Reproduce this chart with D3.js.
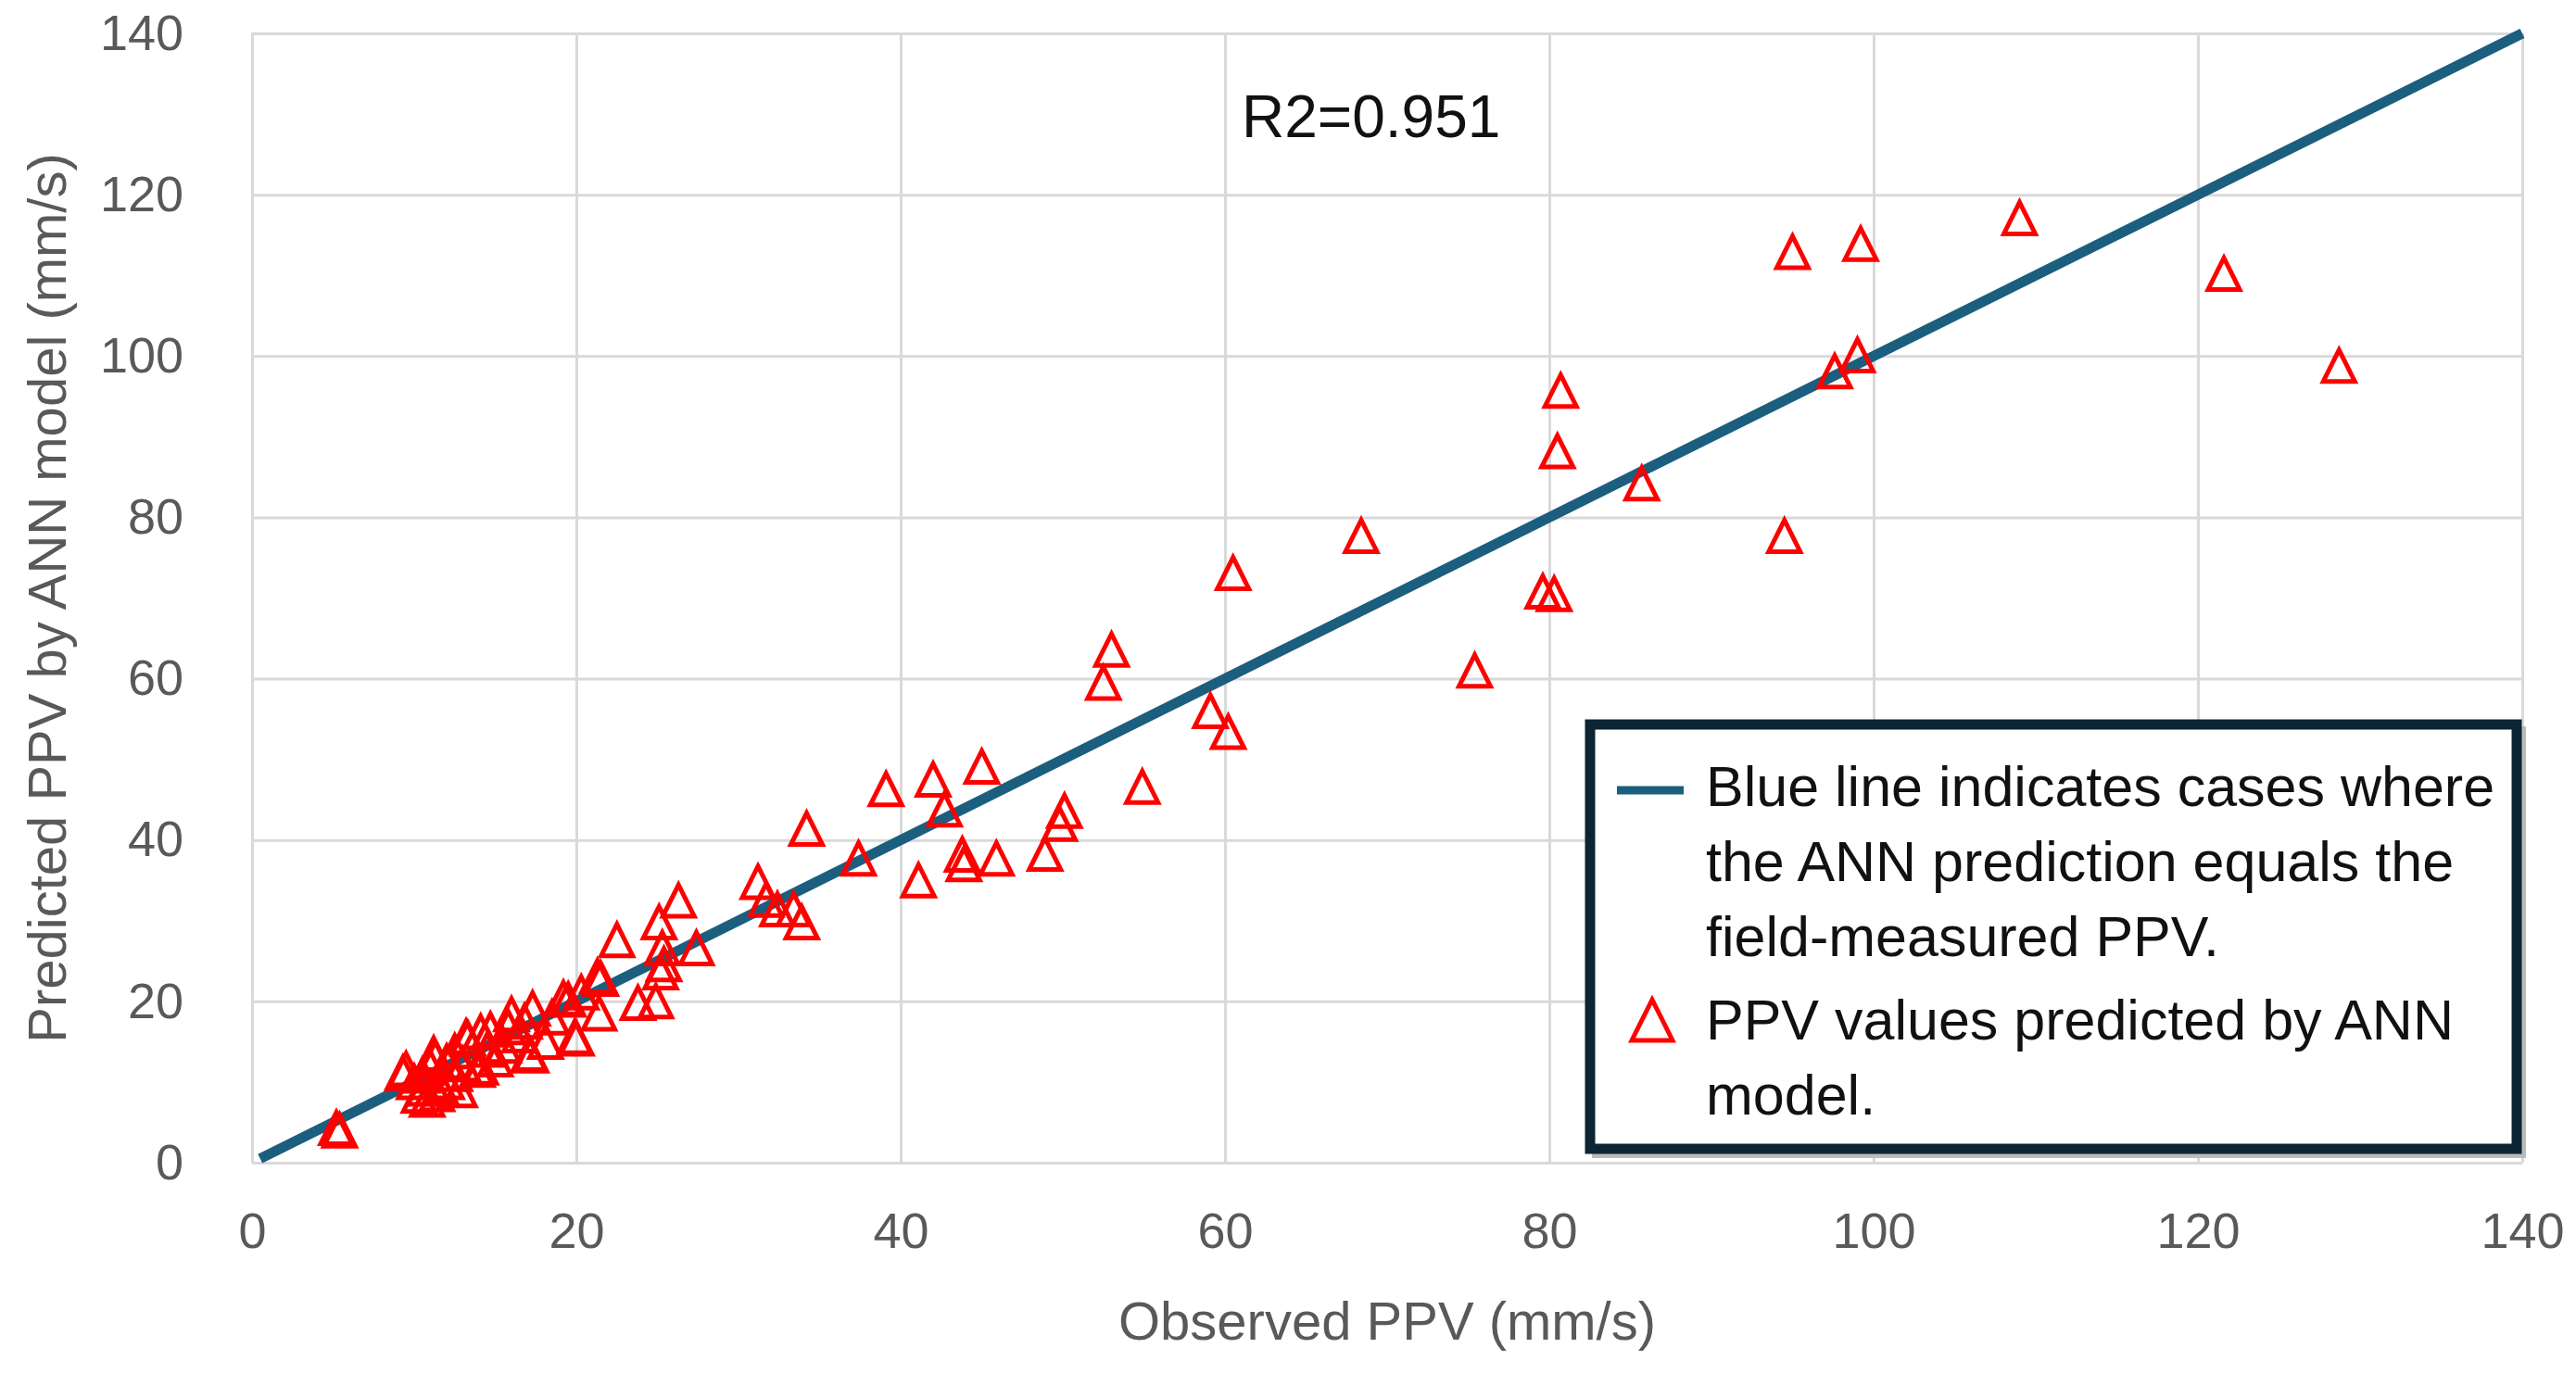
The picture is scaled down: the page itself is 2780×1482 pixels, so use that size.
<!DOCTYPE html>
<html>
<head>
<meta charset="utf-8">
<script src="https://cdn.jsdelivr.net/npm/d3@7"></script>
<style>
  body { margin: 0; background: #fff; }
  svg { display: block; font-family: "Liberation Sans", Arial, sans-serif; }
</style>
</head>
<body>
<div id="fig-scatter"><svg width="2780" height="1482"></svg></div>
<script>

// observed PPV (mm/s)
const observedPPV = [
	109.0, 95.0, 99.2, 121.6, 128.7, 99.0, 97.6, 80.7, 80.5, 85.7,
	68.4, 94.5, 60.5, 79.6, 80.3, 75.4, 53.0, 52.5, 59.1, 60.2,
	54.9, 45.0, 42.0, 39.1, 42.7, 50.1, 49.8, 48.9, 34.2, 37.4,
	43.8, 43.9, 45.9, 41.1, 31.2, 31.7, 33.4, 33.9, 26.3, 25.1,
	27.4, 25.3, 25.4, 25.2, 22.5, 23.8, 21.5, 21.4, 20.0, 19.5,
	20.3, 21.3, 19.2, 18.1, 19.9, 17.1, 17.3, 16.0, 14.7, 14.1,
	13.2, 13.9, 14.1, 13.3, 11.2, 11.3, 10.3, 11.4, 11.6, 9.3,
	9.5, 10.0, 10.6, 12.0, 12.5, 15.0, 15.5, 16.5, 17.2, 12.0,
	10.8, 5.2, 5.4, 24.9, 32.4, 12.5, 13.0, 15.8, 11.0, 14.5,
	16.8, 18.5, 10.5, 12.8
];

// PPV predicted by the ANN model (mm/s)
const predictedPPV = [
	117.1, 112.9, 113.9, 110.2, 98.8, 100.1, 98.1, 95.7, 88.2, 84.2,
	77.7, 77.7, 73.1, 70.8, 70.5, 61.0, 63.6, 59.5, 56.0, 53.4,
	46.6, 49.1, 47.5, 46.3, 43.8, 43.6, 42.0, 38.3, 41.4, 37.7,
	38.2, 37.0, 37.7, 35.0, 34.8, 32.6, 31.4, 29.8, 32.5, 29.8,
	26.6, 26.6, 24.6, 23.6, 27.6, 19.8, 22.8, 18.5, 15.4, 20.2,
	21.1, 23.1, 20.4, 15.0, 15.6, 13.5, 19.1, 18.4, 16.5, 16.2,
	15.6, 11.5, 11.8, 15.4, 13.5, 13.0, 8.3, 8.5, 9.5, 11.1,
	11.6, 10.0, 9.2, 12.5, 11.0, 12.8, 14.5, 15.8, 13.3, 10.0,
	7.8, 4.3, 4.0, 20.0, 31.4, 13.8, 12.2, 16.8, 11.8, 14.0,
	17.5, 18.0, 10.8, 9.0
];

// perfect-agreement line (prediction = observation)
const equalityLine = [[0.5, 0.5], [140, 140]];

const axisTicks = [0, 20, 40, 60, 80, 100, 120, 140];
const xTitle = "Observed PPV (mm/s)";
const yTitle = "Predicted PPV by ANN model (mm/s)";
const r2Label = "R2=0.951";
const legendLineText = ["Blue line indicates cases where", "the ANN prediction equals the", "field-measured PPV."];
const legendPointText = ["PPV values predicted by ANN", "model."];

function whenDocumentLoaded(action) {
	if (document.readyState === "loading") {
		document.addEventListener("DOMContentLoaded", action);
	} else {
		action();
	}
}

whenDocumentLoaded(() => {
	const svg = d3.select('#fig-scatter svg');

	const left = 272, right = 2722, top = 36, bottom = 1255;
	const lineColor = '#1b5e7e';
	const pointColor = '#ff0000';
	const tickColor = '#595959';

	// Scales
	const scaleX = d3.scaleLinear().domain([0, 140]).range([left, right]);
	const scaleY = d3.scaleLinear().domain([0, 140]).range([bottom, top]);

	// Grid + tick labels
	const xAxis = svg.append('g')
		.attr('transform', `translate(0,${bottom})`)
		.call(d3.axisBottom(scaleX).tickValues(axisTicks).tickSize(-(bottom - top)).tickPadding(54));
	const yAxis = svg.append('g')
		.attr('transform', `translate(${left},0)`)
		.call(d3.axisLeft(scaleY).tickValues(axisTicks).tickSize(-(right - left)).tickPadding(74));

	[xAxis, yAxis].forEach(ax => {
		ax.select('.domain').remove();
		ax.selectAll('line').attr('stroke', '#d9d9d9').attr('stroke-width', 3);
		ax.selectAll('text')
			.attr('fill', tickColor)
			.style('font-size', '54px')
			.style('font-family', '"Liberation Sans", Arial, sans-serif');
	});

	// Axis titles
	svg.append('text')
		.attr('x', (left + right) / 2)
		.attr('y', 1446)
		.attr('text-anchor', 'middle')
		.attr('fill', tickColor)
		.style('font-size', '58px')
		.text(xTitle);

	svg.append('text')
		.attr('transform', `translate(71,${(top + bottom) / 2}) rotate(-90)`)
		.attr('text-anchor', 'middle')
		.attr('fill', tickColor)
		.style('font-size', '58px')
		.text(yTitle);

	// y = x line
	const lineGenerator = d3.line()
		.x(d => scaleX(d[0]))
		.y(d => scaleY(d[1]));

	svg.append('path')
		.datum(equalityLine)
		.attr('d', lineGenerator)
		.attr('fill', 'none')
		.attr('stroke', lineColor)
		.attr('stroke-width', 11);

	// Triangles
	const tri = s => `M0,${-s}L${s},${s}L${-s},${s}Z`;
	const points = observedPPV.map((v, i) => [v, predictedPPV[i]]);

	svg.append('g')
		.selectAll('path')
		.data(points)
		.enter()
		.append('path')
		.attr('transform', d => `translate(${scaleX(d[0])},${scaleY(d[1])})`)
		.attr('d', tri(17))
		.attr('fill', 'none')
		.attr('stroke', pointColor)
		.attr('stroke-width', 5);

	// R2
	svg.append('text')
		.attr('x', 1340)
		.attr('y', 148)
		.attr('fill', '#111')
		.style('font-size', '64px')
		.text(r2Label);

	// Legend
	const legend = svg.append('g');
	legend.append('rect')
		.attr('x', 1722).attr('y', 788).attr('width', 1000).attr('height', 458)
		.attr('fill', 'none').attr('stroke', '#bbb').attr('stroke-width', 8);
	legend.append('rect')
		.attr('x', 1716).attr('y', 782).attr('width', 1000).attr('height', 458)
		.attr('fill', '#fff').attr('stroke', '#0c2433').attr('stroke-width', 11);

	legend.append('line')
		.attr('x1', 1745).attr('x2', 1817).attr('y1', 853).attr('y2', 853)
		.attr('stroke', lineColor).attr('stroke-width', 9);
	legend.append('path')
		.attr('transform', 'translate(1783,1101)')
		.attr('d', tri(22))
		.attr('fill', 'none').attr('stroke', pointColor).attr('stroke-width', 5);

	const addLines = (rows, y0) => legend.append('text')
		.attr('fill', '#111')
		.style('font-size', '61px')
		.selectAll('tspan')
		.data(rows)
		.enter()
		.append('tspan')
		.attr('x', 1841)
		.attr('y', (d, i) => y0 + i * 81)
		.text(d => d);

	addLines(legendLineText, 870);
	addLines(legendPointText, 1122);
});
</script>
</body>
</html>
